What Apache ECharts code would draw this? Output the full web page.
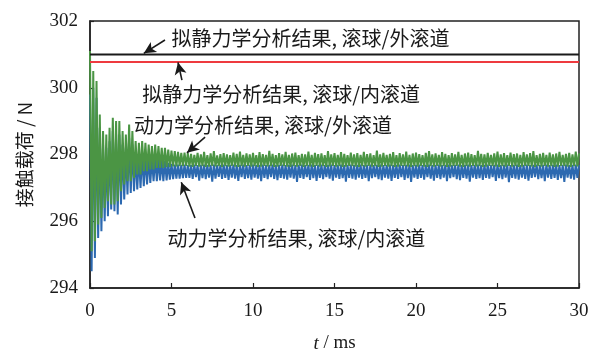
<!DOCTYPE html>
<html>
<head>
<meta charset="utf-8">
<script src="https://cdn.jsdelivr.net/npm/echarts@6/dist/echarts.min.js"></script>
<style>html,body{margin:0;padding:0;background:#fff}#c{width:591px;height:351px}</style>
</head>
<body>
<div id="c"></div>
<script>
// ---- data ----
const dt = 0.1; // ms between samples
const xTicks = [0, 5, 10, 15, 20, 25, 30];
const yTicks = [294, 296, 298, 300, 302];
const quasiStaticOuter = 301.0;   // 拟静力学, 滚球/外滚道
const quasiStaticInner = 300.77;  // 拟静力学, 滚球/内滚道

const outerTransient = [
301.1, 295.1, 300.5, 295.4, 300.2, 295.9, 299.2, 296.1, 298.7, 296.4,
298.6, 296.6, 298.8, 296.5, 299.1, 296.5, 299.0, 296.6, 299.0, 296.9,
298.7, 297.1, 298.6, 297.2, 298.9, 297.2, 298.7, 297.3, 298.4, 297.4,
298.35, 297.4, 298.4, 297.5, 298.35, 297.5, 298.3, 297.55, 298.25, 297.55,
298.3, 297.6, 298.25, 297.6, 298.2, 297.6, 298.2, 297.62, 298.15, 297.62,
298.12, 297.64, 298.1, 297.64, 298.08, 297.65, 298.05, 297.65, 298.06, 297.66,
298.04];
const outerSteady = [
297.64, 298.02, 297.63, 297.99, 297.66, 298.05, 297.64, 298.00, 297.65, 298.08, 297.63, 297.98, 297.64, 298.03, 297.66, 298.10, 297.64, 297.97, 297.65, 298.01,
297.63, 298.04, 297.65, 298.00, 297.64, 297.98, 297.66, 298.06, 297.64, 298.02, 297.63, 298.09, 297.65, 297.99, 297.64, 298.03, 297.66, 298.00, 297.64, 298.05,
297.65, 297.98, 297.63, 298.07, 297.64, 298.01, 297.66, 297.99, 297.64, 298.11, 297.65, 298.02, 297.63, 297.98, 297.64, 298.04, 297.66, 298.00, 297.65, 298.08,
297.64, 297.99, 297.63, 298.03, 297.65, 298.06, 297.64, 297.98, 297.66, 298.02, 297.63, 298.00, 297.65, 298.09, 297.64, 297.99, 297.63, 298.05, 297.66, 298.01,
297.64, 298.03, 297.65, 297.98, 297.63, 298.10, 297.64, 298.00, 297.66, 298.04, 297.64, 297.99, 297.65, 298.07, 297.63, 298.02, 297.64, 297.98, 297.66, 298.06,
297.65, 298.00, 297.64, 298.04, 297.63, 297.99, 297.65, 298.08, 297.64, 298.01, 297.66, 298.03, 297.64, 297.98, 297.65, 298.12, 297.63, 298.00, 297.64, 298.05,
297.66, 297.99, 297.64, 298.02, 297.65, 298.07, 297.63, 297.98, 297.64, 298.04, 297.66, 298.00, 297.65, 298.09, 297.64, 297.99, 297.63, 298.03, 297.65, 298.06,
297.64, 298.01, 297.66, 297.98, 297.64, 298.05, 297.63, 298.10, 297.65, 298.00, 297.64, 298.03, 297.66, 297.99, 297.64, 298.07, 297.65, 298.02, 297.63, 297.98,
297.64, 298.04, 297.65, 298.00, 297.66, 298.08, 297.64, 297.99, 297.63, 298.03, 297.65, 298.06, 297.64, 298.01, 297.66, 297.98, 297.64, 298.11, 297.65, 298.02,
297.63, 298.00, 297.64, 298.05, 297.66, 297.99, 297.65, 298.03, 297.64, 298.09, 297.63, 298.00, 297.65, 298.04, 297.64, 297.98, 297.66, 298.06, 297.64, 298.01,
297.65, 298.03, 297.63, 297.99, 297.64, 298.07, 297.66, 298.00, 297.65, 298.04, 297.64, 298.10, 297.63, 297.98, 297.65, 298.02, 297.64, 298.05, 297.66, 297.99,
297.64, 298.06, 297.65, 298.00, 297.63, 298.03, 297.64, 298.08, 297.66, 297.99, 297.65, 298.02, 297.64, 298.05, 297.63, 298.00, 297.65, 298.09, 297.64, 298.03];

const innerTransient = [
299.8, 294.5, 300.0, 294.9, 299.7, 295.5, 298.8, 295.7, 298.3, 296.0,
298.2, 296.15, 298.4, 296.35, 298.7, 296.3, 298.6, 296.2, 298.6, 296.5,
298.3, 296.65, 298.2, 296.8, 298.5, 296.85, 298.3, 296.9, 298.0, 296.95,
297.95, 297.0, 298.0, 297.05, 297.95, 297.1, 297.9, 297.15, 297.85, 297.2,
297.9, 297.2, 297.85, 297.22, 297.8, 297.2, 297.8, 297.22, 297.75, 297.25,
297.72, 297.26, 297.7, 297.28, 297.7, 297.28, 297.69, 297.29, 297.7, 297.3,
297.68];
const innerSteady = [
297.30, 297.68, 297.27, 297.70, 297.32, 297.68, 297.22, 297.69, 297.29, 297.70, 297.26, 297.68, 297.31, 297.69, 297.19, 297.70, 297.28, 297.68, 297.33, 297.69,
297.27, 297.70, 297.30, 297.68, 297.24, 297.69, 297.31, 297.70, 297.28, 297.68, 297.21, 297.69, 297.32, 297.70, 297.27, 297.68, 297.29, 297.69, 297.25, 297.70,
297.31, 297.68, 297.28, 297.69, 297.20, 297.70, 297.30, 297.68, 297.26, 297.69, 297.32, 297.70, 297.27, 297.68, 297.23, 297.69, 297.30, 297.70, 297.28, 297.68,
297.25, 297.69, 297.31, 297.70, 297.28, 297.68, 297.18, 297.69, 297.30, 297.70, 297.27, 297.68, 297.32, 297.69, 297.24, 297.70, 297.29, 297.68, 297.21, 297.69,
297.30, 297.70, 297.26, 297.68, 297.32, 297.69, 297.28, 297.70, 297.22, 297.68, 297.31, 297.69, 297.27, 297.70, 297.29, 297.68, 297.19, 297.69, 297.30, 297.70,
297.28, 297.68, 297.25, 297.69, 297.31, 297.70, 297.27, 297.68, 297.30, 297.69, 297.20, 297.70, 297.29, 297.68, 297.32, 297.69, 297.26, 297.70, 297.23, 297.68,
297.31, 297.69, 297.28, 297.70, 297.21, 297.68, 297.30, 297.69, 297.27, 297.70, 297.32, 297.68, 297.24, 297.69, 297.29, 297.70, 297.18, 297.68, 297.31, 297.69,
297.27, 297.70, 297.30, 297.68, 297.25, 297.69, 297.32, 297.70, 297.28, 297.68, 297.22, 297.69, 297.30, 297.70, 297.26, 297.68, 297.31, 297.69, 297.20, 297.70,
297.29, 297.68, 297.32, 297.69, 297.26, 297.70, 297.23, 297.68, 297.30, 297.69, 297.28, 297.70, 297.19, 297.68, 297.31, 297.69, 297.27, 297.70, 297.29, 297.68,
297.24, 297.69, 297.30, 297.70, 297.28, 297.68, 297.32, 297.69, 297.21, 297.70, 297.29, 297.68, 297.26, 297.69, 297.31, 297.70, 297.17, 297.68, 297.30, 297.69,
297.28, 297.70, 297.25, 297.68, 297.31, 297.69, 297.27, 297.70, 297.22, 297.68, 297.30, 297.69, 297.32, 297.70, 297.26, 297.68, 297.29, 297.69, 297.20, 297.70,
297.31, 297.68, 297.27, 297.69, 297.30, 297.70, 297.24, 297.68, 297.29, 297.69, 297.18, 297.70, 297.31, 297.68, 297.28, 297.69, 297.25, 297.70, 297.30, 297.68];

const labels = {
  qsOuter: '拟静力学分析结果, 滚球/外滚道',
  qsInner: '拟静力学分析结果, 滚球/内滚道',
  dynOuter: '动力学分析结果, 滚球/外滚道',
  dynInner: '动力学分析结果, 滚球/内滚道'
};

// ---- build ----
const outer = outerTransient.concat(outerSteady);
const inner = innerTransient.concat(innerSteady);
const toPairs = arr => arr.map((v, i) => [Math.round(i * dt * 1000) / 1000, v]);
const xMin = xTicks[0], xMax = xTicks[xTicks.length - 1];

const CJK = '"Noto Sans CJK SC", sans-serif';
const SERIF = '"Liberation Serif", "Times New Roman", serif';

function textPoint(coord, text) {
  return {
    coord: coord, value: text, symbol: 'circle', symbolSize: 0,
    label: { show: true, position: 'right', distance: 0, formatter: text,
      color: '#1a1a1a', fontFamily: CJK, fontSize: 20 }
  };
}
function arrow(from, to) {
  return [{ coord: from }, { coord: to }];
}

const chart = echarts.init(document.getElementById('c'));
chart.setOption({
  animation: false,
  backgroundColor: '#fff',
  grid: { left: 90, right: 12, top: 21, bottom: 63, show: true, containLabel: false,
    outerBoundsMode: 'none',
    borderColor: '#222', borderWidth: 1.5, backgroundColor: 'transparent' },
  xAxis: {
    type: 'value', min: xMin, max: xMax, interval: 5,
    axisLine: { show: true, lineStyle: { color: '#222', width: 1.5 } },
    axisTick: { show: true, inside: true, length: 5, lineStyle: { color: '#222', width: 1.2 } },
    splitLine: { show: false },
    axisLabel: { color: '#1a1a1a', fontFamily: SERIF, fontSize: 19, margin: 14 },
    name: '{i|t} / ms', nameLocation: 'middle', nameGap: 46,
    nameTextStyle: { color: '#1a1a1a', fontFamily: SERIF, fontSize: 19,
      rich: { i: { fontStyle: 'italic', fontFamily: SERIF, fontSize: 19, color: '#1a1a1a' } } }
  },
  yAxis: {
    type: 'value', min: yTicks[0], max: yTicks[yTicks.length - 1], interval: 2,
    axisLine: { show: true, lineStyle: { color: '#222', width: 1.5 } },
    axisTick: { show: true, inside: true, length: 4, lineStyle: { color: '#222', width: 1.2 } },
    splitLine: { show: false },
    axisLabel: { color: '#1a1a1a', fontFamily: SERIF, fontSize: 19, margin: 12 },
    name: '接触载荷 / N', nameLocation: 'middle', nameGap: 56, nameRotate: 90,
    nameTextStyle: { color: '#1a1a1a', fontFamily: CJK, fontSize: 19 }
  },
  series: [
    { name: 'dynInner', type: 'line', data: toPairs(inner), showSymbol: false, symbol: 'none',
      lineStyle: { color: '#2c69b0', width: 2 }, z: 2 },
    { name: 'dynOuter', type: 'line', data: toPairs(outer), showSymbol: false, symbol: 'none',
      lineStyle: { color: '#4b9544', width: 2 }, z: 3 },
    { name: 'qsInner', type: 'line', data: [[xMin, quasiStaticInner], [xMax, quasiStaticInner]],
      symbol: 'none', lineStyle: { color: '#ee3a3f', width: 2 }, z: 4 },
    { name: 'qsOuter', type: 'line', data: [[xMin, quasiStaticOuter], [xMax, quasiStaticOuter]],
      symbol: 'none', lineStyle: { color: '#1a1a1a', width: 2 }, z: 5,
      markPoint: {
        silent: true,
        data: [
          textPoint([5.0, 301.49], labels.qsOuter),
          textPoint([3.2, 299.81], labels.qsInner),
          textPoint([2.7, 298.88], labels.dynOuter),
          textPoint([4.75, 295.5], labels.dynInner)
        ]
      },
      markLine: {
        silent: true, symbol: ['none', 'arrow'], symbolSize: [9, 12],
        label: { show: false },
        lineStyle: { color: '#1a1a1a', width: 1.6, type: 'solid' },
        data: [
          arrow([4.6, 301.43], [3.3, 301.03]),
          arrow([5.64, 300.23], [5.40, 300.76]),
          arrow([7.06, 298.52], [5.95, 298.05]),
          arrow([6.44, 296.10], [5.60, 297.17])
        ]
      }
    }
  ]
});
</script>
</body>
</html>
